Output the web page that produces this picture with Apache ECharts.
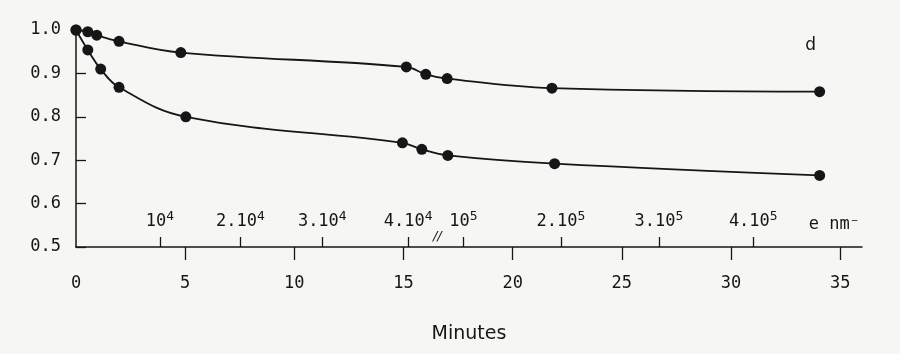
<!DOCTYPE html>
<html>
<head>
<meta charset="utf-8">
<script src="https://cdn.jsdelivr.net/npm/echarts@6/dist/echarts.min.js"></script>
<style>
html,body{margin:0;padding:0;background:#f6f6f4}
#main{width:900px;height:354px}
</style>
</head>
<body>
<div id="main"></div>
<script>
// values (x in minutes, y relative)
var upperX = [0, 0.54, 0.95, 1.97, 4.8, 15.13, 16.02, 17.0, 21.8, 34.06];
var upperY = [1.0, 0.996, 0.988, 0.974, 0.948, 0.915, 0.898, 0.888, 0.866, 0.858];
var lowerX = [0, 0.54, 1.13, 1.97, 5.03, 14.95, 15.84, 17.03, 21.92, 34.06];
var lowerY = [1.0, 0.954, 0.91, 0.868, 0.80, 0.74, 0.725, 0.711, 0.692, 0.665];

var minuteLabels = [0, 5, 10, 15, 20, 25, 30, 35];
var minuteTicks = [5, 10, 15, 20, 25, 30, 35];

// dose scale, placed on the minute axis
var doseTicks = [3.84, 7.53, 11.28, 15.21, 17.74, 22.21, 26.70, 31.02];
var doseLabels = ['10{s|4}', '2.10{s|4}', '3.10{s|4}', '4.10{s|4}', '10{s|5}', '2.10{s|5}', '3.10{s|5}', '4.10{s|5}'];
var unitPos = 34.73;
var unitLabel = 'e nm⁻';
var breakPos = 16.55;
var panelPos = [33.65, 0.965];

var ink = '#161616';
var mono = 'DejaVu Sans Mono';

function pairs(xs, ys) {
    var out = [];
    for (var i = 0; i < xs.length; i++) out.push([xs[i], ys[i]]);
    return out;
}

var dom = document.getElementById('main');
var myChart = echarts.init(dom);

var option = {
    backgroundColor: '#f6f6f4',
    animation: false,
    grid: {
        left: 76,
        right: 38,
        top: 30,
        bottom: 107
    },
    xAxis: [{
        type: 'value',
        min: 0,
        max: 36,
        position: 'bottom',
        name: 'Minutes',
        nameLocation: 'middle',
        nameGap: 78,
        nameTextStyle: {
            fontFamily: 'DejaVu Sans',
            fontSize: 19,
            color: ink
        },
        axisLine: {
            onZero: false,
            lineStyle: { color: ink, width: 1.5 }
        },
        axisTick: {
            customValues: minuteTicks,
            length: 13,
            lineStyle: { color: ink, width: 1.3 }
        },
        axisLabel: {
            customValues: minuteLabels,
            margin: 28,
            fontFamily: mono,
            fontSize: 17,
            color: ink
        },
        splitLine: { show: false }
    }, {
        type: 'value',
        min: 0,
        max: 36,
        position: 'bottom',
        axisLine: { show: false, onZero: false },
        axisTick: {
            customValues: doseTicks,
            inside: true,
            length: 10,
            lineStyle: { color: ink, width: 1.3 }
        },
        axisLabel: {
            customValues: doseTicks.concat([unitPos]),
            inside: true,
            margin: 14,
            fontFamily: mono,
            fontSize: 17,
            color: ink,
            formatter: function (v) {
                if (Math.abs(v - unitPos) < 0.01) return unitLabel;
                for (var i = 0; i < doseTicks.length; i++) {
                    if (Math.abs(v - doseTicks[i]) < 0.01) return doseLabels[i];
                }
                return '';
            },
            rich: {
                s: {
                    fontFamily: mono,
                    fontSize: 13,
                    color: ink,
                    verticalAlign: 'top',
                    padding: [0, 0, 10, 0]
                }
            }
        },
        splitLine: { show: false }
    }],
    yAxis: {
        type: 'value',
        min: 0.5,
        max: 1.0,
        interval: 0.1,
        axisLine: {
            show: true,
            lineStyle: { color: ink, width: 1.5 }
        },
        axisTick: {
            inside: true,
            length: 10,
            lineStyle: { color: ink, width: 1.3 }
        },
        axisLabel: {
            margin: 15,
            fontFamily: mono,
            fontSize: 17,
            color: ink,
            formatter: function (v) { return v.toFixed(1); }
        },
        splitLine: { show: false }
    },
    series: [{
        name: 'upper',
        type: 'line',
        xAxisIndex: 0,
        smooth: 0.4,
        symbol: 'circle',
        symbolSize: 11,
        itemStyle: { color: ink },
        lineStyle: { color: ink, width: 1.8 },
        data: pairs(upperX, upperY)
    }, {
        name: 'lower',
        type: 'line',
        xAxisIndex: 0,
        smooth: 0.4,
        symbol: 'circle',
        symbolSize: 11,
        itemStyle: { color: ink },
        lineStyle: { color: ink, width: 1.8 },
        data: pairs(lowerX, lowerY)
    }]
};

myChart.setOption(option, true);

// break mark on the dose scale and the panel letter
var brk = myChart.convertToPixel({ xAxisIndex: 0, yAxisIndex: 0 }, [breakPos, 0.5]);
var pd = myChart.convertToPixel({ xAxisIndex: 0, yAxisIndex: 0 }, panelPos);
myChart.setOption({
    graphic: [{
        type: 'text',
        x: brk[0],
        y: brk[1] - 10,
        style: {
            text: '//',
            fontFamily: 'DejaVu Sans',
            fontStyle: 'italic',
            fontSize: 13,
            fill: ink,
            align: 'center',
            verticalAlign: 'middle'
        }
    }, {
        type: 'text',
        x: pd[0],
        y: pd[1],
        style: {
            text: 'd',
            fontFamily: 'DejaVu Sans',
            fontSize: 17,
            fill: ink,
            align: 'center',
            verticalAlign: 'middle'
        }
    }]
});
</script>
</body>
</html>
